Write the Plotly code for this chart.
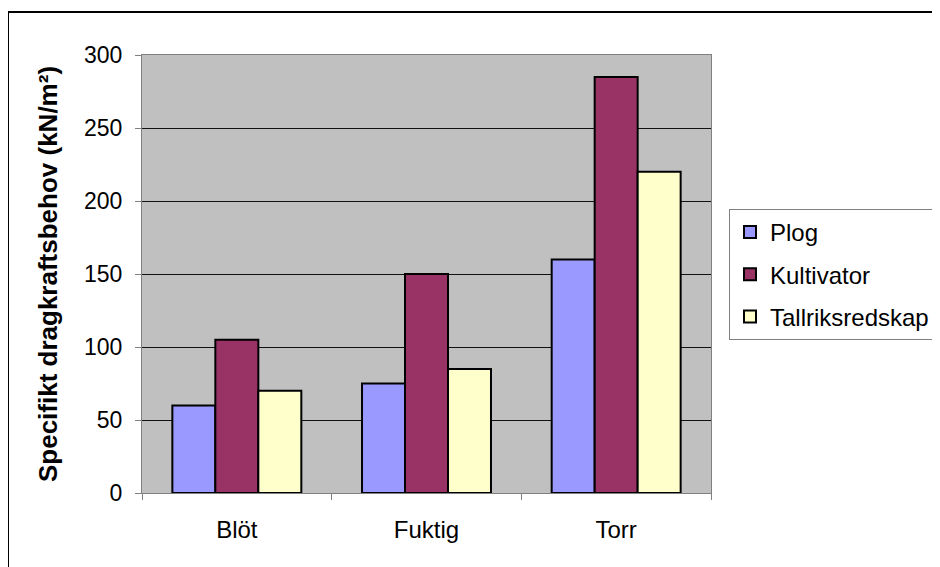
import plotly.graph_objects as go

categories = ["Blöt", "Fuktig", "Torr"]
plog = [60, 75, 160]
kultivator = [105, 150, 285]
tallriksredskap = [70, 85, 220]
series_names = ["Plog", "Kultivator", "Tallriksredskap"]
colors = ["#9999FF", "#993366", "#FFFFCC"]
y_ticks = [0, 50, 100, 150, 200, 250, 300]

FONT = "Liberation Sans, Arial, sans-serif"

fig = go.Figure()
for i, (name, vals) in enumerate(zip(series_names, [plog, kultivator, tallriksredskap])):
    fig.add_trace(go.Bar(
        x=categories, y=vals, name=name, legendgroup=name,
        marker=dict(color=colors[i], line=dict(color="black", width=2)),
    ))

OFF = 8  # page body margin
W, H = 940 - OFF, 567 - OFF
# plot area in screen pixels
L, R, T, B = 142, 711, 55, 493

def px(x):
    return (x - L) / (R - L)

def py(y):
    return (B - y) / (B - T)

fig.update_layout(
    width=W, height=H,
    margin=dict(l=L - OFF, r=W - (R - OFF), t=T - OFF, b=H - (B - OFF), autoexpand=False),
    paper_bgcolor="white",
    plot_bgcolor="#C0C0C0",
    barmode="group",
    bargap=0.32,
    bargroupgap=0,
    font=dict(family=FONT, color="black", size=23),
    showlegend=True,
    legend=dict(
        x=px(729), y=py(209), xanchor="left", yanchor="top",
        bordercolor="#808080", borderwidth=1, bgcolor="white",
        font=dict(size=24, family=FONT),
        traceorder="grouped", tracegroupgap=8,
        itemwidth=30,
    ),
    xaxis=dict(
        showline=True, linecolor="#808080", linewidth=1, mirror=True,
        ticks="outside", tickson="boundaries", ticklen=6, tickcolor="#808080",
        tickfont=dict(size=24), showgrid=False, ticklabelstandoff=15,
    ),
    yaxis=dict(
        range=[0, 300], tickvals=y_ticks,
        showline=True, linecolor="#808080", linewidth=1, mirror=True,
        ticks="outside", ticklen=6, tickcolor="#808080",
        tickfont=dict(size=23), ticklabelstandoff=8,
        showgrid=True, gridcolor="#111111", gridwidth=1,
        title=dict(text="<b>Specifikt dragkraftsbehov (kN/m²)</b>", font=dict(size=26), standoff=18),
        zeroline=False,
    ),
    shapes=[dict(
        type="rect", xref="paper", yref="paper",
        x0=px(8), x1=px(960), y0=py(590), y1=py(12),
        line=dict(color="black", width=2), fillcolor="rgba(0,0,0,0)", layer="below",
    )],
)

fig.write_html("out.html")
